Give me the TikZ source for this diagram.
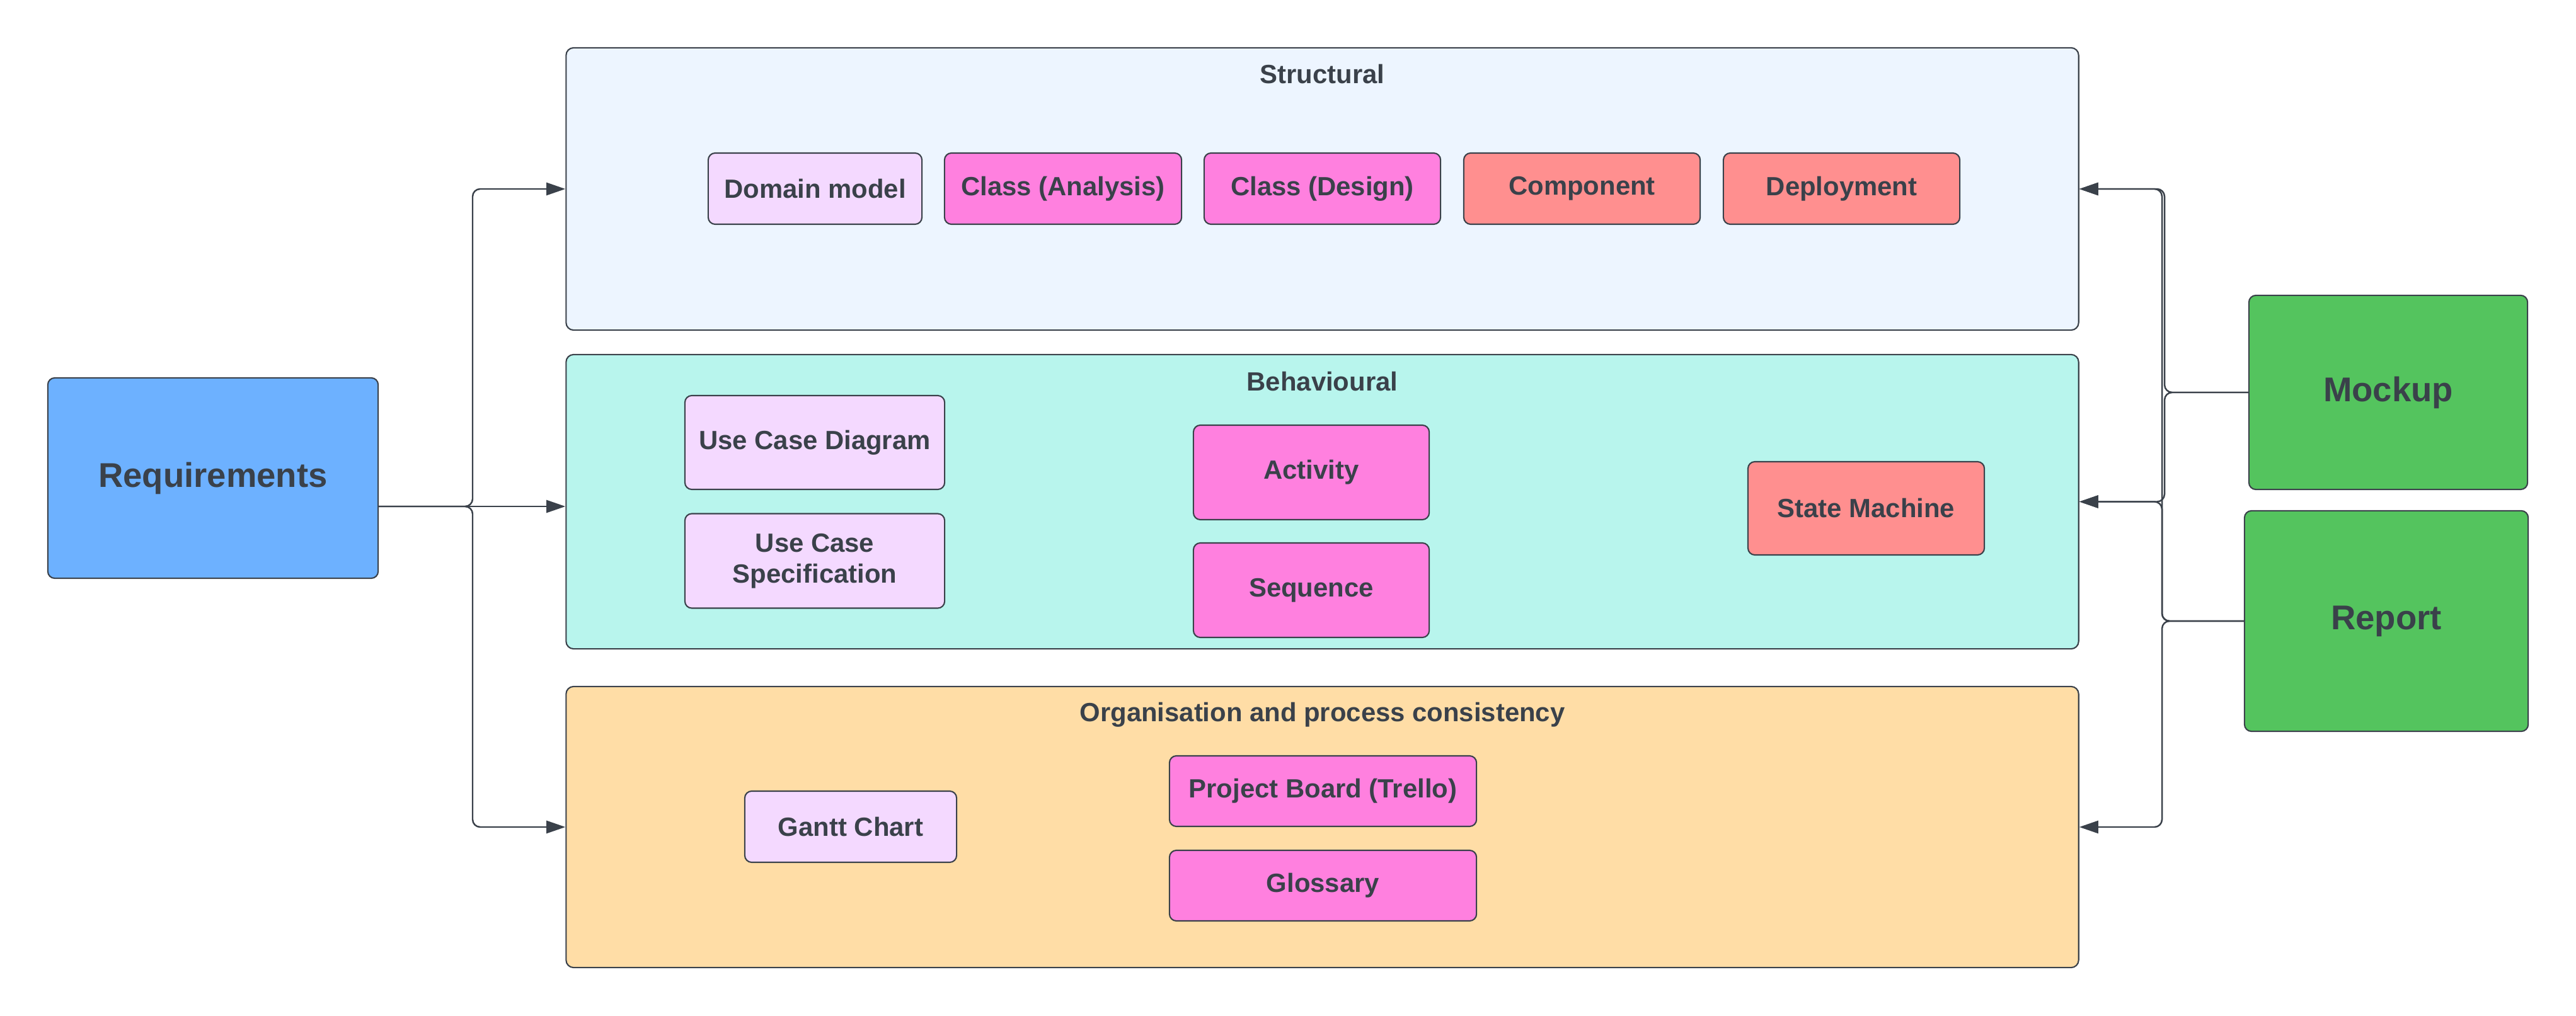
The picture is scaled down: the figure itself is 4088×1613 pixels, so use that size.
\documentclass[tikz,border=0pt]{standalone}
\usepackage{fontspec}
\setmainfont{Liberation Sans}
\usepackage{tikz}
\usetikzlibrary{arrows.meta,positioning,calc}

\definecolor{ink}{HTML}{3A414A}
\definecolor{structbg}{HTML}{EDF5FF}
\definecolor{behavbg}{HTML}{B8F5ED}
\definecolor{orgbg}{HTML}{FFDDA6}
\definecolor{reqblue}{HTML}{6DB1FF}
\definecolor{docgreen}{HTML}{54C45E}
\definecolor{lilacbox}{HTML}{F4D9FF}
\definecolor{pinkbox}{HTML}{FF80DF}
\definecolor{salmonbox}{HTML}{FF8F8F}

\begin{document}
\begin{tikzpicture}[
  x=0.01cm, y=-0.01cm,
  box/.style={rounded corners=0.11cm, draw=ink, line width=0.6pt, align=center,
              text=ink, inner sep=0pt, minimum width=3.75cm, minimum height=1.13cm,
              font=\bfseries\fontsize{11.9}{14}\selectfont},
  big/.style={box, font=\bfseries\fontsize{15.5}{18}\selectfont},
  area/.style={rounded corners=0.12cm, draw=ink, line width=0.6pt,
               minimum width=23.99cm, inner sep=0pt},
  ttl/.style={anchor=base, text=ink, inner sep=0pt,
              font=\bfseries\fontsize{11.9}{14}\selectfont},
  arr/.style={-{Triangle[length=0.3cm, width=0.2cm]}, draw=ink, line width=0.7pt,
              rounded corners=0.12cm}
]
  \useasboundingbox (0,0) rectangle (4088,1613);

  % the three groups
  \node[area, fill=structbg, minimum height=4.48cm] (struct) at (2098.5, 300)   {};
  \node[area, fill=behavbg,  minimum height=4.67cm] (behav)  at (2098.5, 796.5) {};
  \node[area, fill=orgbg,    minimum height=4.46cm] (org)    at (2098.5, 1313)  {};

  \node[ttl] (structttl) at ([yshift=-0.58cm]struct.north) {Structural};
  \node[ttl] (behavttl)  at ([yshift=-0.59cm]behav.north)  {Behavioural};
  \node[ttl] (orgttl)    at ([yshift=-0.57cm]org.north)    {Organisation and process consistency};

  % structural
  \node[box, fill=lilacbox, minimum width=3.39cm] (domain) at (1293.5, 299.5) {Domain model};
  \node[box, fill=pinkbox,  minimum width=3.76cm] (clsan)  at (1687, 299.5)   {Class (Analysis)};
  \node[box, fill=pinkbox]   (clsde)  at (2098.5, 299.5) {Class (Design)};
  \node[box, fill=salmonbox] (compo)  at (2510.5, 299.5) {Component};
  \node[box, fill=salmonbox] (deploy) at (2922.5, 299.5) {Deployment};

  % behavioural
  \node[box, fill=lilacbox, minimum width=4.12cm, minimum height=1.49cm] (ucdiag) at (1293, 702.5) {Use Case Diagram};
  \node[box, fill=lilacbox, minimum width=4.12cm, minimum height=1.50cm] (ucspec) at (1293, 890.5) {Use Case\\Specification};
  \node[box, fill=pinkbox,  minimum width=3.74cm, minimum height=1.50cm] (activ)  at (2081, 750)   {Activity};
  \node[box, fill=pinkbox,  minimum width=3.74cm, minimum height=1.50cm] (seqnc)  at (2081, 937)   {Sequence};
  \node[box, fill=salmonbox, minimum height=1.48cm] (stm) at (2961.5, 807) {State Machine};

  % organisation
  \node[box, fill=lilacbox, minimum width=3.36cm] (gantt) at (1350, 1312.5) {Gantt Chart};
  \node[box, fill=pinkbox,  minimum width=4.87cm, minimum height=1.12cm] (board) at (2099.5, 1256) {Project Board (Trello)};
  \node[box, fill=pinkbox,  minimum width=4.87cm, minimum height=1.12cm] (gloss) at (2099.5, 1406) {Glossary};

  % sources
  \node[big, fill=reqblue,   minimum width=5.24cm, minimum height=3.18cm] (req)  at (338, 759)  {Requirements};
  \node[big, fill=docgreen,  minimum width=4.42cm, minimum height=3.08cm] (mock) at (3790, 623) {Mockup};
  \node[big, fill=docgreen,  minimum width=4.50cm, minimum height=3.50cm] (rep)  at (3787, 986) {Report};

  \coordinate (lbus) at (750, 804);
  \coordinate (mbus) at (3435, 623);
  \coordinate (rbus) at (3431, 986);

  \draw[arr] (req.east |- lbus) -- (behav.west |- lbus);
  \draw[arr] (req.east |- lbus) -- (lbus) |- (struct.west);
  \draw[arr] (req.east |- lbus) -- (lbus) |- (org.west);

  \draw[arr] (mock.west) -- (mbus) |- (struct.east);
  \draw[arr] (mock.west) -- (mbus) |- (behav.east);
  \draw[arr] (rep.west) -- (rbus) |- (struct.east);
  \draw[arr] (rep.west) -- (rbus) |- (behav.east);
  \draw[arr] (rep.west) -- (rbus) |- (org.east);
\end{tikzpicture}
\end{document}
